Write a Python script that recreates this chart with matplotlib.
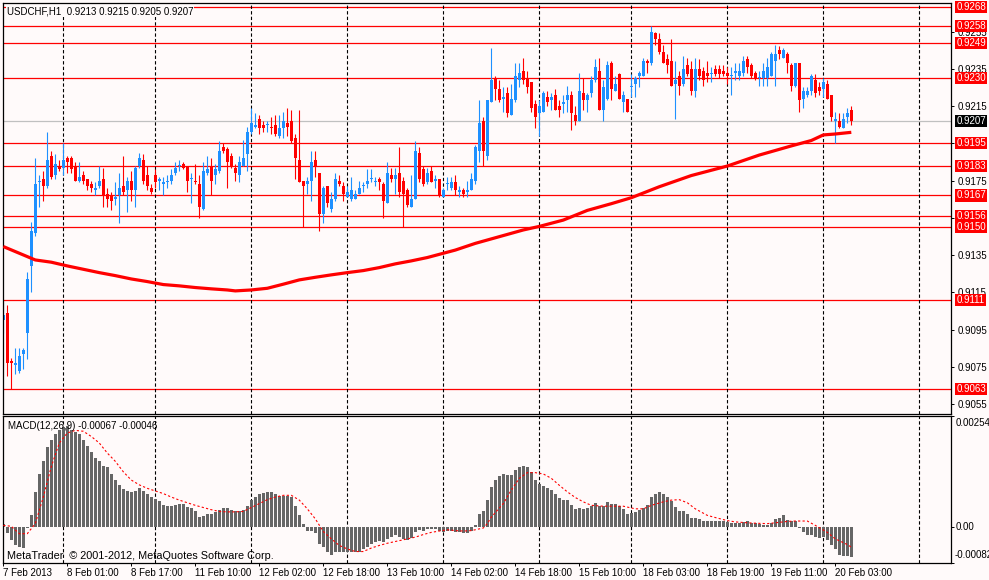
import matplotlib
matplotlib.use("Agg")
import matplotlib.pyplot as plt
import numpy as np

plt.rcParams['font.family'] = ['Liberation Sans', 'DejaVu Sans']

# hourly candles, bar 0 = 7 Feb 2013 09:00
opens = [.9100, .9104, .9078, .9076, .9073, .9082, .9093, .9129, .9147, .9174,
         .9176, .9172, .9188, .9178, .9183, .9182, .9187, .9187, .9183, .9175,
         .9178, .9176, .9173, .9170, .9172, .9176, .9168, .9167, .9165, .9167,
         .9172, .9170, .9175, .9170, .9183, .9186, .9178, .9171, .9178, .9175,
         .9173, .9174, .9175, .9179, .9183, .9184, .9183, .9176, .9175, .9173,
         .9160, .9179, .9183, .9178, .9180, .9193, .9192, .9188, .9182, .9178,
         .9183, .9189, .9201, .9204, .9208, .9205, .9205, .9204, .9205, .9199,
         .9203, .9206, .9207, .9198, .9186, .9175, .9173, .9175, .9186, .9179,
         .9157, .9172, .9160, .9165, .9175, .9172, .9166, .9165, .9165, .9168,
         .9172, .9173, .9176, .9174, .9176, .9173, .9163, .9178, .9176, .9179,
         .9175, .9170, .9161, .9165, .9190, .9181, .9174, .9180, .9175, .9176,
         .9166, .9173, .9171, .9174, .9169, .9170, .9169, .9170, .9175, .9191,
         .9207, .9188, .9217, .9230, .9224, .9219, .9222, .9210, .9218, .9229,
         .9234, .9230, .9228, .9216, .9211, .9212, .9220, .9218, .9221, .9215,
         .9216, .9218, .9221, .9210, .9207, .9222, .9218, .9222, .9229, .9234,
         .9213, .9219, .9238, .9223, .9232, .9217, .9219, .9225, .9227, .9231,
         .9231, .9239, .9238, .9254, .9251, .9244, .9240, .9239, .9227, .9231,
         .9227, .9237, .9235, .9223, .9235, .9234, .9233, .9232, .9235, .9235,
         .9234, .9233, .9231, .9233, .9231, .9233, .9240, .9237, .9233, .9230,
         .9230, .9230, .9231, .9239, .9245, .9241, .9243, .9237, .9226, .9238,
         .9219, .9221, .9223, .9229, .9225, .9224, .9227, .9221, .9207, .9207,
         .9203, .9209, .9213]
highs = [.9110, .9108, .9080, .9085, .9085, .9085, .9126, .9153, .9187, .9178,
         .9180, .9201, .9191, .9189, .9186, .9195, .9188, .9188, .9185, .9185,
         .9180, .9176, .9175, .9174, .9183, .9182, .9171, .9169, .9174, .9179,
         .9188, .9177, .9180, .9183, .9190, .9189, .9183, .9173, .9181, .9177,
         .9177, .9178, .9181, .9185, .9186, .9185, .9183, .9179, .9184, .9178,
         .9185, .9188, .9187, .9184, .9196, .9195, .9193, .9190, .9184, .9188,
         .9197, .9204, .9214, .9211, .9210, .9207, .9207, .9209, .9210, .9210,
         .9212, .9214, .9213, .9200, .9213, .9175, .9177, .9191, .9191, .9179,
         .9172, .9172, .9169, .9179, .9178, .9174, .9172, .9177, .9170, .9175,
         .9174, .9181, .9181, .9177, .9177, .9174, .9185, .9182, .9182, .9193,
         .9177, .9171, .9178, .9196, .9193, .9183, .9182, .9183, .9178, .9176,
         .9171, .9177, .9177, .9178, .9172, .9171, .9175, .9179, .9194, .9218,
         .9209, .9218, .9246, .9231, .9229, .9225, .9225, .9227, .9238, .9238,
         .9241, .9234, .9228, .9218, .9218, .9223, .9223, .9222, .9224, .9218,
         .9221, .9226, .9223, .9215, .9233, .9230, .9222, .9231, .9240, .9241,
         .9229, .9239, .9239, .9231, .9233, .9223, .9219, .9232, .9231, .9234,
         .9241, .9240, .9258, .9255, .9254, .9248, .9243, .9251, .9239, .9234,
         .9242, .9241, .9239, .9241, .9240, .9236, .9239, .9236, .9237, .9237,
         .9237, .9236, .9236, .9238, .9238, .9242, .9242, .9238, .9234, .9234,
         .9238, .9241, .9244, .9248, .9247, .9246, .9244, .9238, .9238, .9238,
         .9225, .9225, .9232, .9232, .9228, .9230, .9229, .9221, .9212, .9211,
         .9211, .9214, .9215]
lows = [.9093, .9070, .9063, .9071, .9072, .9074, .9079, .9115, .9145, .9161,
        .9164, .9171, .9176, .9176, .9180, .9178, .9179, .9179, .9175, .9174,
        .9173, .9170, .9169, .9167, .9171, .9161, .9161, .9159, .9162, .9152,
        .9167, .9158, .9164, .9161, .9182, .9173, .9170, .9168, .9171, .9170,
        .9167, .9171, .9173, .9178, .9180, .9181, .9169, .9163, .9173, .9155,
        .9159, .9178, .9167, .9173, .9179, .9190, .9171, .9182, .9175, .9174,
        .9183, .9180, .9200, .9203, .9200, .9201, .9201, .9200, .9199, .9198,
        .9198, .9199, .9195, .9176, .9174, .9150, .9168, .9164, .9177, .9148,
        .9152, .9161, .9158, .9164, .9172, .9164, .9166, .9164, .9165, .9168,
        .9169, .9171, .9174, .9172, .9170, .9155, .9163, .9174, .9168, .9166,
        .9150, .9161, .9161, .9165, .9174, .9172, .9173, .9174, .9171, .9166,
        .9166, .9170, .9170, .9167, .9166, .9166, .9166, .9170, .9173, .9185,
        .9183, .9186, .9217, .9218, .9217, .9212, .9209, .9210, .9217, .9225,
        .9227, .9222, .9212, .9203, .9199, .9212, .9215, .9213, .9213, .9209,
        .9211, .9212, .9202, .9205, .9207, .9213, .9212, .9220, .9228, .9213,
        .9207, .9218, .9218, .9223, .9219, .9212, .9212, .9220, .9220, .9225,
        .9231, .9233, .9237, .9248, .9243, .9238, .9233, .9226, .9208, .9221,
        .9226, .9231, .9221, .9220, .9229, .9226, .9228, .9228, .9231, .9230,
        .9231, .9227, .9221, .9229, .9229, .9231, .9233, .9230, .9229, .9226,
        .9226, .9226, .9231, .9226, .9240, .9241, .9233, .9223, .9225, .9212,
        .9214, .9220, .9221, .9220, .9221, .9220, .9219, .9207, .9195, .9203,
        .9203, .9206, .9205]
closes = [.9103, .9077, .9077, .9077, .9081, .9084, .9122, .9148, .9173, .9175,
          .9172, .9186, .9177, .9184, .9181, .9186, .9185, .9181, .9175, .9177,
          .9175, .9172, .9171, .9171, .9175, .9167, .9165, .9164, .9166, .9171,
          .9169, .9175, .9170, .9182, .9187, .9175, .9172, .9169, .9174, .9175,
          .9174, .9175, .9178, .9182, .9183, .9182, .9175, .9176, .9174, .9161,
          .9180, .9181, .9175, .9181, .9191, .9191, .9185, .9183, .9179, .9185,
          .9187, .9201, .9206, .9205, .9203, .9203, .9205, .9203, .9200, .9203,
          .9207, .9204, .9196, .9187, .9174, .9172, .9175, .9185, .9183, .9157,
          .9171, .9163, .9165, .9176, .9173, .9168, .9169, .9170, .9168, .9171,
          .9172, .9175, .9176, .9174, .9174, .9164, .9179, .9176, .9178, .9169,
          .9168, .9162, .9165, .9191, .9176, .9173, .9179, .9174, .9175, .9167,
          .9170, .9173, .9174, .9170, .9170, .9168, .9170, .9176, .9193, .9206,
          .9191, .9218, .9229, .9224, .9218, .9220, .9211, .9219, .9231, .9233,
          .9229, .9225, .9214, .9209, .9215, .9222, .9217, .9220, .9213, .9213,
          .9217, .9221, .9211, .9207, .9223, .9218, .9221, .9229, .9236, .9213,
          .9225, .9237, .9224, .9227, .9219, .9221, .9212, .9225, .9230, .9233,
          .9239, .9238, .9255, .9251, .9244, .9238, .9237, .9226, .9229, .9226,
          .9235, .9232, .9223, .9235, .9231, .9229, .9231, .9233, .9232, .9232,
          .9232, .9231, .9231, .9233, .9234, .9239, .9236, .9231, .9230, .9230,
          .9234, .9236, .9243, .9243, .9243, .9245, .9238, .9226, .9238, .9218,
          .9223, .9223, .9231, .9222, .9223, .9228, .9219, .9209, .9208, .9204,
          .9208, .9211, .9207]

# moving average, sampled (bar, price)
ma_bars = [0, 5, 8, 12, 16, 20, 24, 28, 32, 36, 40, 44, 48, 52, 56, 58, 62, 66,
           70, 74, 78, 82, 86, 90, 94, 98, 102, 106, 113, 118, 124, 130, 134,
           140, 146, 152, 157, 164, 172, 181, 189, 197, 202, 205, 208, 212]
ma_vals = [.91396, .91351, .91324, .91312, .91292, .91274, .91256, .91240,
           .91222, .91208, .91192, .91185, .91176, .91169, .91163, .91158,
           .91163, .91172, .91194, .91217, .91231, .91244, .91256, .91267,
           .91283, .91303, .91319, .91337, .91377, .91413, .91449, .91485,
           .91504, .91538, .91590, .91626, .91658, .91717, .91777, .91828,
           .91887, .91936, .91965, .91995, .92000, .92009]

level_lines = [0.9268, 0.9258, 0.9249, 0.9230, 0.9195, 0.9183, 0.9167,
               0.9156, 0.9150, 0.9111, 0.9063]
bid = 0.9207
price_ticks = [0.9055, 0.9075, 0.9095, 0.9115, 0.9135, 0.9155, 0.9175,
               0.9195, 0.9215, 0.9235, 0.9255]

# MACD main (x 1e-5), one value per bar
macd_hist = [8, -14, -30, -42, -46, -48, -3, 27, 80, 123,
             152, 184, 200, 214, 224, 230, 232, 224, 219, 213,
             200, 186, 173, 158, 152, 141, 137, 122, 109, 97,
             87, 84, 80, 84, 89, 84, 76, 68, 65, 59,
             51, 49, 49, 51, 53, 52, 47, 44, 38, 23,
             25, 29, 29, 34, 40, 44, 44, 40, 38, 38,
             40, 49, 62, 70, 76, 78, 80, 80, 76, 72,
             72, 72, 68, 49, 27, 8, -8, -9, -14, -38,
             -46, -57, -63, -58, -56, -58, -58, -58, -56, -56,
             -50, -45, -39, -35, -31, -35, -27, -23, -19, -23,
             -27, -29, -25, -12, -6, -8, -4, -4, -5, -9,
             -12, -9, -8, -12, -12, -14, -14, -10, 6, 29,
             37, 63, 93, 108, 118, 122, 120, 120, 130, 139,
             141, 139, 127, 108, 99, 94, 89, 85, 76, 67,
             62, 62, 50, 41, 44, 42, 45, 48, 56, 48,
             48, 58, 53, 53, 49, 41, 29, 32, 35, 39,
             45, 50, 68, 77, 81, 76, 68, 60, 46, 36,
             36, 31, 22, 22, 19, 15, 15, 15, 15, 15,
             13, 12, 9, 9, 9, 12, 14, 10, 9, 8,
             6, 5, 10, 18, 22, 27, 17, 15, 15, -2,
             -12, -19, -17, -22, -25, -23, -29, -42, -50, -63,
             -67, -67, -69]
# signal line (x 1e-5), sampled
sig_bars = [0, 2, 4, 6, 8, 10, 12, 14, 16, 18, 20, 22, 24, 26, 28, 30, 32, 34,
            36, 38, 40, 42, 44, 46, 48, 50, 52, 54, 56, 58, 60, 62, 64, 66, 68,
            70, 72, 74, 76, 78, 80, 82, 84, 86, 88, 90, 92, 94, 96, 99, 101,
            103, 105, 107, 109, 111, 113, 115, 117, 120, 121, 122, 125, 127,
            129, 131, 133, 135, 137, 139, 141, 143, 145, 147, 150, 152, 155,
            158, 160, 162, 165, 167, 169, 171, 173, 176, 178, 181, 183, 186,
            188, 191, 193, 196, 198, 201, 203, 206, 208, 211, 212]
sig_vals = [4, 2, -15, -15, 8, 69, 139, 193, 216, 222, 220, 208, 193, 170, 151,
            127, 108, 97, 89, 83, 77, 69, 62, 56, 50, 45, 40, 36, 35, 35, 36,
            45, 54, 63, 69, 73, 73, 62, 42, 19, -10, -27, -42, -50, -56, -56,
            -48, -42, -37, -31, -27, -23, -17, -12, -9, -6, -8, -9, -8, -2, 8,
            23, 54, 85, 112, 125, 125, 122, 112, 96, 81, 68, 58, 50, 48, 48,
            48, 42, 42, 50, 58, 62, 63, 56, 42, 27, 22, 15, 12, 10, 9, 8, 10,
            13, 14, 14, 4, -12, -27, -40, -46]

day_lines = [15, 38, 62, 86, 110, 134, 157, 181, 205, 229]
tick_bars = list(range(0, 209, 16))
tick_labels = ["7 Feb 2013", "8 Feb 01:00", "8 Feb 17:00", "11 Feb 10:00",
               "12 Feb 02:00", "12 Feb 18:00", "13 Feb 10:00", "14 Feb 02:00",
               "14 Feb 18:00", "15 Feb 10:00", "18 Feb 03:00", "18 Feb 19:00",
               "19 Feb 11:00", "20 Feb 03:00"]

bg = '#FFFAFA'
bull = '#1E90FF'
bear = '#FF0000'

W, H = 989, 580
fig = plt.figure(figsize=(W / 100, H / 100), dpi=100, facecolor=bg)
left, right = 2.7, 951.3
ax = fig.add_axes([left / W, 1 - 413.5 / H, (right - left) / W, (413.5 - 3) / H])
ax2 = fig.add_axes([left / W, 1 - 563.3 / H, (right - left) / W, (563.3 - 416) / H])

for a in (ax, ax2):
    a.set_facecolor(bg)
    a.set_xlim(-0.15, 237)
    for s in a.spines.values():
        s.set_color('black')
        s.set_linewidth(0.9)
    for d in day_lines:
        a.axvline(d, color='black', lw=0.8, ls=(0, (3, 2)), zorder=1.5)

# price panel
o = np.array(opens); h = np.array(highs); l = np.array(lows); c = np.array(closes)
idx = np.arange(len(o))
cols = [bull if cc >= oo else bear for oo, cc in zip(o, c)]
for lv in level_lines:
    ax.axhline(lv, color='red', lw=0.9, zorder=1)
ax.axhline(bid, color='#C0C0C0', lw=0.9, zorder=1)
ax.vlines(idx, l, h, colors=cols, lw=0.8, zorder=2)
ax.bar(idx, np.maximum(np.abs(c - o), 0.00006), bottom=np.minimum(o, c),
       width=0.72, color=cols, lw=0, zorder=2.1)
ax.plot(ma_bars, ma_vals, color='red', lw=2.3, zorder=3, solid_capstyle='butt')

ax.set_ylim(0.9050, 0.92703)
ax.set_xticks([])
ax.yaxis.tick_right()
ax.set_yticks(price_ticks)
ax.set_yticklabels([f'{t:.4f}' for t in price_ticks])
ax.tick_params(axis='y', direction='out', length=2.5, width=0.7, pad=2,
               labelsize=7, colors='black')

for lv in level_lines:
    ax.annotate(f'{lv:.4f}', xy=(1, lv), xycoords=('axes fraction', 'data'),
                xytext=(5, 0), textcoords='offset pixels', va='center', ha='left',
                color='white', fontsize=7, annotation_clip=False, zorder=5,
                bbox=dict(boxstyle='square,pad=0.12', fc='red', ec='none'))
ax.annotate(f'{bid:.4f}', xy=(1, bid), xycoords=('axes fraction', 'data'),
            xytext=(5, 0), textcoords='offset pixels', va='center', ha='left',
            color='white', fontsize=7, annotation_clip=False, zorder=5,
            bbox=dict(boxstyle='square,pad=0.12', fc='black', ec='none'))

ax.annotate('USDCHF,H1  0.9213 0.9215 0.9205 0.9207', xy=(0, 1),
            xycoords='axes fraction', xytext=(4, -3), textcoords='offset pixels',
            va='top', ha='left', fontsize=7, zorder=6,
            bbox=dict(boxstyle='square,pad=0.1', fc=bg, ec='none'))

# MACD panel
hist = np.array(macd_hist) * 1e-5
ax2.bar(idx, hist, width=0.7, color='#666666', lw=0, zorder=2)
ax2.plot(sig_bars, np.array(sig_vals) * 1e-5, color='red', lw=0.8,
         ls=(0, (2, 2)), zorder=3)
ax2.set_ylim(-0.00083, 0.00255)
ax2.yaxis.tick_right()
ax2.set_yticks([-0.00082, 0.0, 0.00254])
ax2.tick_params(axis='y', direction='out', length=2.5, width=0.7, labelright=False)
ax2.set_xticks(tick_bars)
ax2.set_xticklabels(tick_labels, ha='left')
ax2.tick_params(axis='x', direction='out', length=2.5, width=0.7, pad=1,
                labelsize=7, colors='black')

ax2.annotate('0.00254', xy=(1, 1), xycoords='axes fraction', xytext=(4, -2),
             textcoords='offset pixels', va='top', ha='left', fontsize=7,
             annotation_clip=False)
ax2.annotate('0.00', xy=(1, 0), xycoords=('axes fraction', 'data'), xytext=(4, 0),
             textcoords='offset pixels', va='center', ha='left', fontsize=7,
             annotation_clip=False)
ax2.annotate('-0.00082', xy=(1, 0), xycoords='axes fraction', xytext=(3, 3),
             textcoords='offset pixels', va='bottom', ha='left', fontsize=7,
             annotation_clip=False)
ax2.annotate('MACD(12,26,9) -0.00067 -0.00046', xy=(0, 1), xycoords='axes fraction',
             xytext=(5, -5), textcoords='offset pixels', va='top', ha='left',
             fontsize=7, zorder=6)
ax2.annotate('MetaTrader  \u00a9 2001-2012, MetaQuotes Software Corp.', xy=(0, 0),
             xycoords='axes fraction', xytext=(4, 4), textcoords='offset pixels',
             va='baseline', ha='left', fontsize=7.8, zorder=6)

fig.savefig('out.png', dpi=100, facecolor=bg)
